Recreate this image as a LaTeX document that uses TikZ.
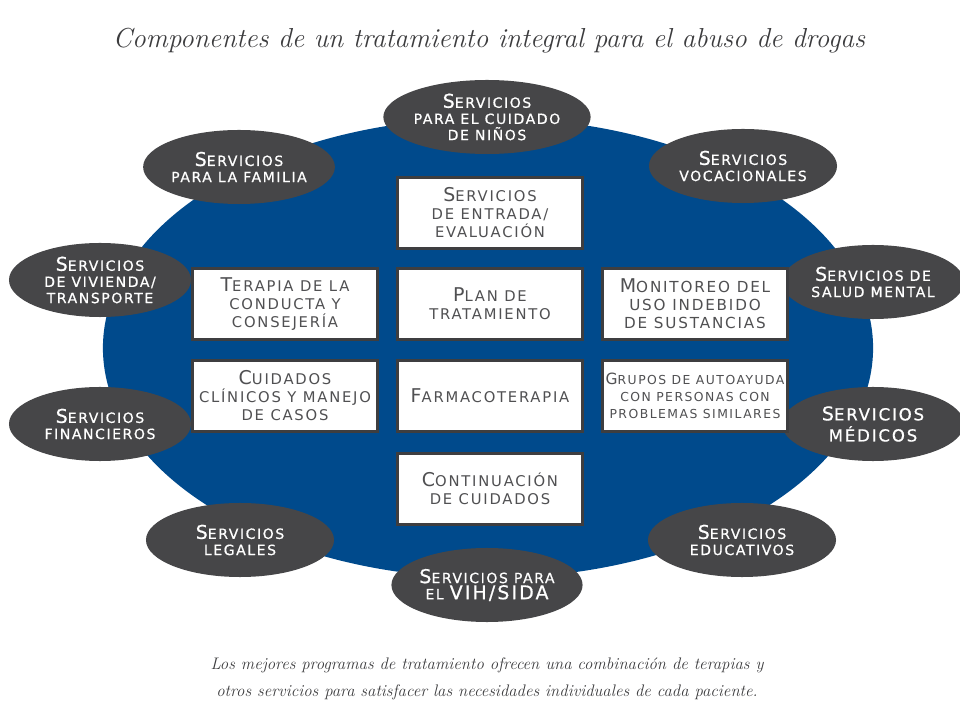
\documentclass[tikz,border=0pt]{standalone}
\usepackage{fontspec}
\usetikzlibrary{positioning,shapes.geometric}

\newfontfamily\labelfont[LetterSpace=12]{DejaVu Sans}
\newfontfamily\ovalfont[LetterSpace=11, FakeBold=0.7]{DejaVu Sans}
\newcommand{\Ini}[1]{{\fontsize{13.5}{12}\selectfont #1}}

\definecolor{ovalblue}{RGB}{0,74,140}
\definecolor{ovalgray}{RGB}{70,70,72}
\definecolor{boxline}{RGB}{62,62,64}
\definecolor{boxtext}{RGB}{80,80,82}
\definecolor{inkgray}{RGB}{60,60,62}

\tikzset{
    service/.style={ellipse, fill=ovalgray, text=white, minimum width=4.7cm, minimum height=1.85cm, inner sep=0pt, align=center, font=\ovalfont\fontsize{10}{11.5}\selectfont},
    sideservice/.style={service, minimum width=4.55cm},
    component/.style={rectangle, draw=boxline, line width=0.075cm, fill=white, text=boxtext, minimum width=4.625cm, minimum height=1.75cm, inner sep=0pt, align=center, font=\labelfont\fontsize{10.5}{12.8}\selectfont},
}

\begin{document}
\begin{tikzpicture}[x=0.025cm,y=-0.025cm]
        \useasboundingbox (0,0) rectangle (960,720);
        \begin{scope}

            % Title
            \node[inkgray, font=\fontsize{19.5}{23}\selectfont\itshape, anchor=base] (title) at (489,48) {Componentes de un tratamiento integral para el abuso de drogas};

            % Backdrop
            \node[ellipse, fill=ovalblue, minimum width=19.25cm, minimum height=11.5cm] (backdrop) at (488,348) {};

            % Services round the plan
            \node[service] (ninos) at (487,117) {\Ini{S}ERVICIOS\\PARA EL CUIDADO\\DE NIÑOS};
            \node[service] (familia) at (239,167) {\Ini{S}ERVICIOS\\PARA LA FAMILIA};
            \node[service] (vocacion) at (743,166) {\Ini{S}ERVICIOS\\VOCACIONALES};
            \node[sideservice] (vivienda) at (100,280) {\Ini{S}ERVICIOS\\DE VIVIENDA/\\TRANSPORTE};
            \node[sideservice] (salud) at (873,282) {\Ini{S}ERVICIOS DE\\SALUD MENTAL};
            \node[sideservice] (finanzas) at (100,424) {\Ini{S}ERVICIOS\\FINANCIEROS};
            \node[sideservice, font=\ovalfont\fontsize{11.8}{15}\selectfont] (medicos) at (873,424) {\Ini{S}ERVICIOS\\MÉDICOS};
            \node[service] (legales) at (240,540) {\Ini{S}ERVICIOS\\LEGALES};
            \node[service] (educacion) at (742,540) {\Ini{S}ERVICIOS\\EDUCATIVOS};
            \node[service] (vih) at (487,585) {\Ini{S}ERVICIOS PARA\\EL \Ini{VIH/SIDA}};

            % Core components
            \node[component] (entrada) at (490,213) {\Ini{S}ERVICIOS\\DE ENTRADA/\\EVALUACIÓN};
            \node[component] (terapia) at (285,304) {\Ini{T}ERAPIA DE LA\\CONDUCTA Y\\CONSEJERÍA};
            \node[component] (plan) at (490,304) {\Ini{P}LAN DE\\TRATAMIENTO};
            \node[component, font=\labelfont\fontsize{10.8}{12.8}\selectfont] (monitoreo) at (695,304) {\Ini{M}ONITOREO DEL\\USO INDEBIDO\\DE SUSTANCIAS};
            \node[component] (cuidados) at (285,396) {\Ini{C}UIDADOS\\CLÍNICOS Y MANEJO\\DE CASOS};
            \node[component] (farmaco) at (490,396) {\Ini{F}ARMACOTERAPIA};
            \node[component, font=\labelfont\fontsize{8.8}{12}\selectfont] (grupos) at (695,396) {{\fontsize{11}{12}\selectfont G}RUPOS DE AUTOAYUDA\\CON PERSONAS CON\\PROBLEMAS SIMILARES};
            \node[component] (continua) at (490,489) {\Ini{C}ONTINUACIÓN\\DE CUIDADOS};

            % Caption
            \node[inkgray, font=\fontsize{11.9}{19.2}\selectfont\itshape, align=center] (caption) at (487,679) {Los mejores programas de tratamiento ofrecen una combinación de terapias y\\otros servicios para satisfacer las necesidades individuales de cada paciente.};

        \end{scope}
    \end{tikzpicture}
\end{document}
